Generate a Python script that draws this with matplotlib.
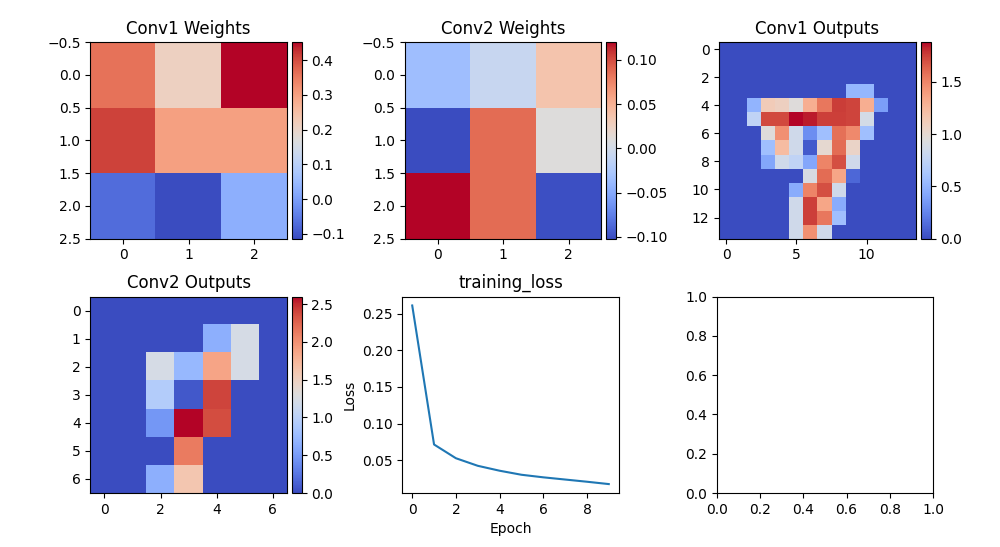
import numpy as np
import matplotlib
matplotlib.use("Agg")
import matplotlib.pyplot as plt
from mpl_toolkits.axes_grid1 import make_axes_locatable

# ---- data ----
conv1_weights = [
    [0.36, 0.21, 0.452],
    [0.41, 0.30, 0.30],
    [-0.07, -0.114, 0.028],
]
conv2_weights = [
    [-0.035, -0.008, 0.036],
    [-0.102, 0.087, 0.009],
    [0.12, 0.087, -0.100],
]
conv1_outputs = [
    [0, 0, 0, 0, 0, 0, 0, 0, 0, 0, 0, 0, 0, 0],
    [0, 0, 0, 0, 0, 0, 0, 0, 0, 0, 0, 0, 0, 0],
    [0, 0, 0, 0, 0, 0, 0, 0, 0, 0, 0, 0, 0, 0],
    [0, 0, 0, 0, 0, 0, 0, 0, 0, 0.52, 0.52, 0, 0, 0],
    [0, 0, 0.50, 1.12, 1.08, 0.95, 1.30, 1.55, 1.76, 1.74, 1.30, 0.38, 0, 0],
    [0, 0, 0.75, 1.72, 1.72, 1.88, 1.84, 1.75, 1.75, 1.74, 0.88, 0, 0, 0],
    [0, 0, 0, 0.95, 1.45, 0.85, 0.30, 0.58, 1.58, 1.48, 0.58, 0, 0, 0],
    [0, 0, 0, 0.58, 1.22, 0.85, 0.06, 1.00, 1.60, 1.05, 0, 0, 0, 0],
    [0, 0, 0, 0.42, 0.85, 0.75, 0.42, 1.50, 1.70, 0.85, 0, 0, 0, 0],
    [0, 0, 0, 0, 0, 0, 0.90, 1.60, 1.35, 0.12, 0, 0, 0, 0],
    [0, 0, 0, 0, 0, 0.45, 1.50, 1.70, 0.85, 0, 0, 0, 0, 0],
    [0, 0, 0, 0, 0, 0.85, 1.75, 1.35, 0.45, 0, 0, 0, 0, 0],
    [0, 0, 0, 0, 0, 0.85, 1.75, 1.55, 0.58, 0, 0, 0, 0, 0],
    [0, 0, 0, 0, 0, 0.85, 1.45, 0.85, 0, 0, 0, 0, 0, 0],
]
conv2_outputs = [
    [0, 0, 0, 0, 0, 0, 0],
    [0, 0, 0, 0, 0.65, 1.22, 0],
    [0, 0, 1.22, 0.73, 1.87, 1.22, 0],
    [0, 0, 0.94, 0.08, 2.40, 0, 0],
    [0, 0, 0.47, 2.60, 2.36, 0, 0],
    [0, 0, 0, 2.13, 0, 0, 0],
    [0, 0, 0.65, 1.60, 0, 0, 0],
]
epochs = list(range(10))
training_loss = [0.261, 0.0717, 0.053, 0.0427, 0.036, 0.0305, 0.027, 0.024, 0.021, 0.0178]

titles = ["Conv1 Weights", "Conv2 Weights", "Conv1 Outputs", "Conv2 Outputs"]

fig, axes = plt.subplots(2, 3, figsize=(10, 5.47), dpi=100)
fig.subplots_adjust(left=0.088, right=0.933, bottom=0.0987, top=0.923,
                    wspace=0.454, hspace=0.295)

images = [conv1_weights, conv2_weights, conv1_outputs, conv2_outputs]
slots = [axes[0, 0], axes[0, 1], axes[0, 2], axes[1, 0]]
for ax, data, title in zip(slots, images, titles):
    im = ax.imshow(np.array(data), cmap="coolwarm")
    ax.set_title(title)
    divider = make_axes_locatable(ax)
    cax = divider.append_axes("right", size="5%", pad=0.05)
    fig.colorbar(im, cax=cax)

ax = axes[1, 1]
ax.plot(epochs, training_loss)
ax.set_title("training_loss")
ax.set_xlabel("Epoch")
ax.set_ylabel("Loss")

fig.savefig("out.png", dpi=100)
